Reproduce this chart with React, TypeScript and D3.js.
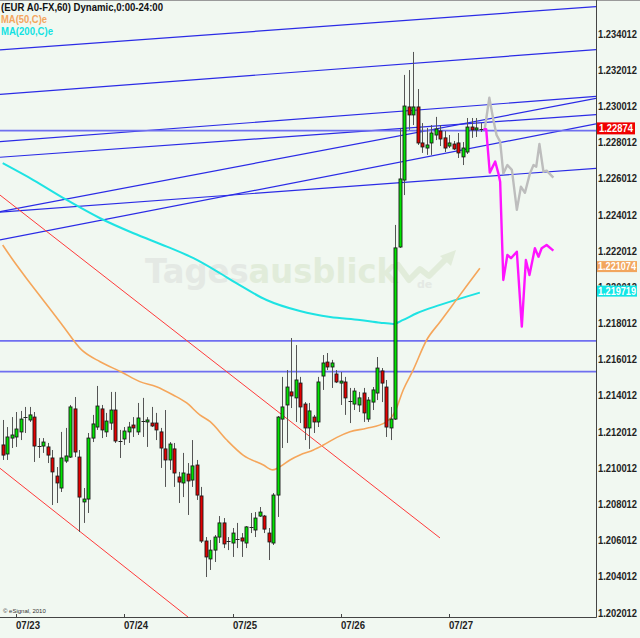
import React from 'react';
import * as d3 from 'd3';

// ---------- data ----------
const opens = [1.21130,1.21080,1.21168,1.21174,1.21202,1.21284,1.21268,1.21284,1.21124,1.21124,1.21119,1.21058,1.20958,1.20892,1.21041,1.21063,1.21329,1.21063,1.20815,1.20831,1.21168,1.21229,1.21329,1.21202,1.21251,1.21323,1.21152,1.21163,1.21202,1.21240,1.21202,1.21262,1.21257,1.21251,1.21251,1.21202,1.21108,1.21047,1.21108,1.20953,1.20920,1.20969,1.20936,1.21019,1.20848,1.20599,1.20500,1.20549,1.20621,1.20699,1.20599,1.20588,1.20610,1.20616,1.20588,1.20671,1.20660,1.20737,1.20737,1.20643,1.20588,1.20853,1.21273,1.21351,1.21423,1.21390,1.21472,1.21356,1.21224,1.21284,1.21257,1.21511,1.21588,1.21561,1.21522,1.21472,1.21478,1.21373,1.21356,1.21351,1.21417,1.21273,1.21367,1.21417,1.21539,1.21450,1.21224,1.21273,1.22224,1.22594,1.22998,1.22954,1.22998,1.22799,1.22771,1.22799,1.22843,1.22865,1.22827,1.22782,1.22793,1.22799,1.22722,1.22749,1.22887,1.22871,1.22876];
const highs = [1.21268,1.21229,1.21284,1.21312,1.21318,1.21340,1.21340,1.21312,1.21168,1.21168,1.21141,1.21102,1.21008,1.21202,1.21224,1.21351,1.21395,1.21102,1.20892,1.21196,1.21296,1.21456,1.21351,1.21307,1.21423,1.21423,1.21213,1.21229,1.21257,1.21284,1.21362,1.21390,1.21284,1.21340,1.21307,1.21224,1.21323,1.21146,1.21141,1.20981,1.21086,1.21030,1.21157,1.21047,1.20898,1.20621,1.20605,1.20632,1.20737,1.20726,1.20621,1.20671,1.20699,1.20643,1.20682,1.20754,1.20759,1.20787,1.20743,1.20671,1.20864,1.21290,1.21506,1.21544,1.21721,1.21682,1.21506,1.21367,1.21362,1.21296,1.21506,1.21627,1.21638,1.21600,1.21544,1.21533,1.21506,1.21445,1.21445,1.21423,1.21445,1.21395,1.21450,1.21616,1.21555,1.21489,1.21340,1.22346,1.22882,1.23175,1.23202,1.23302,1.23097,1.22909,1.22882,1.22898,1.22943,1.22898,1.22865,1.22843,1.22810,1.22854,1.22804,1.22937,1.22937,1.22937,1.22909];
const lows = [1.21047,1.21047,1.21113,1.21119,1.21157,1.21196,1.21257,1.21036,1.21058,1.21086,1.21030,1.20798,1.20809,1.20870,1.21030,1.21058,1.21063,1.20649,1.20699,1.20754,1.21146,1.21213,1.21168,1.21174,1.21213,1.21141,1.21058,1.21130,1.21141,1.21174,1.21185,1.21174,1.21119,1.21229,1.21157,1.21003,1.20898,1.20992,1.20898,1.20809,1.20842,1.20743,1.20898,1.20826,1.20588,1.20400,1.20439,1.20483,1.20588,1.20560,1.20549,1.20511,1.20560,1.20511,1.20560,1.20643,1.20621,1.20732,1.20643,1.20494,1.20577,1.20732,1.21113,1.21141,1.21334,1.21257,1.21251,1.21157,1.21108,1.21196,1.21229,1.21434,1.21544,1.21445,1.21472,1.21351,1.21296,1.21251,1.21323,1.21312,1.21257,1.21257,1.21323,1.21378,1.21367,1.21174,1.21157,1.21268,1.22219,1.22511,1.22871,1.22898,1.22788,1.22744,1.22733,1.22733,1.22815,1.22782,1.22749,1.22771,1.22760,1.22716,1.22677,1.22738,1.22827,1.22832,1.22860];
const closes = [1.21074,1.21174,1.21185,1.21218,1.21273,1.21281,1.21296,1.21124,1.21122,1.21146,1.21074,1.20981,1.20920,1.21058,1.21069,1.21340,1.21091,1.20842,1.20831,1.21168,1.21246,1.21345,1.21213,1.21262,1.21323,1.21152,1.21145,1.21207,1.21229,1.21224,1.21279,1.21260,1.21268,1.21235,1.21213,1.21113,1.21047,1.21135,1.20975,1.20925,1.20975,1.20931,1.21014,1.20853,1.20599,1.20511,1.20549,1.20621,1.20699,1.20583,1.20596,1.20643,1.20607,1.20599,1.20677,1.20674,1.20726,1.20759,1.20665,1.20594,1.20853,1.21284,1.21340,1.21450,1.21401,1.21489,1.21340,1.21224,1.21318,1.21257,1.21478,1.21583,1.21561,1.21583,1.21478,1.21483,1.21390,1.21370,1.21428,1.21390,1.21307,1.21378,1.21434,1.21555,1.21472,1.21229,1.21273,1.22219,1.22600,1.23003,1.22954,1.22998,1.22799,1.22777,1.22788,1.22854,1.22876,1.22821,1.22771,1.22799,1.22766,1.22744,1.22771,1.22887,1.22871,1.22882,1.22874];

const ma50Idx = [0,2,5,9,13,17.5,21.6,26.4,30.4,34.1,37.8,40.8,43.7,46,49.7,53.3,57.8,59.9,61.5,63.7,65.9,68.9,71.1,74.1,77,80.7,84.8,87,88.8,91,94,97,100.3,105.8];
const ma50Val = [1.22235,1.22162,1.22060,1.21930,1.21800,1.21655,1.21590,1.21532,1.21480,1.21452,1.21406,1.21362,1.21296,1.21259,1.21157,1.21074,1.21019,1.20992,1.21010,1.21047,1.21074,1.21102,1.21130,1.21172,1.21203,1.21222,1.21253,1.21314,1.21434,1.21544,1.21710,1.21811,1.21922,1.22107];

const ma200Idx = [0,6.8,14.2,21.6,29,36.4,42.3,48.2,51.9,58.5,65.9,72.6,79.2,83.7,86.6,88.8,91.8,97,105.8];
const ma200Val = [1.22687,1.22594,1.22484,1.22383,1.22300,1.22226,1.22162,1.22079,1.22023,1.21931,1.21870,1.21837,1.21821,1.21806,1.21799,1.21821,1.21858,1.21904,1.21972];

const magentaIdx = [106.6,107.2,108.0,109.2,109.9,110.3,111.0,111.9,112.7,114.0,115.1,116.0,116.8,118.0,118.8,119.5,120.6,122.1];
const magentaVal = [1.22875,1.22875,1.22635,1.22696,1.22631,1.22585,1.22042,1.22180,1.22162,1.22198,1.21784,1.22152,1.22069,1.22217,1.22170,1.22217,1.22235,1.22204];
const grayIdx = [106.9,107.9,108.8,109.5,110.3,111.0,111.9,112.9,114.0,114.9,115.8,116.9,117.7,118.3,119.0,119.9,120.6,122.1];
const grayVal = [1.22880,1.23049,1.22926,1.22843,1.22806,1.22631,1.22677,1.22650,1.22429,1.22557,1.22524,1.22631,1.22677,1.22668,1.22793,1.22640,1.22646,1.22607];

const trendFrom = [1.23313,1.23068,1.22806,1.22720,1.22419,1.22263,1.22417];
const trendTo = [1.23553,1.23315,1.23056,1.22956,1.23045,1.22904,1.22659];
const levels = [1.22867,1.21705,1.21535];
const redFromVal = [1.22511,1.21001];
const redToIdx = [96.96,41.09];
const redToVal = [1.20616,1.20179];

const dayLabels = ['07/23','07/24','07/25','07/26','07/27'];
const dayTickIdx = [3,27,51,75,99];
const yTicks = d3.range(17).map(k => 1.202012 + 0.002 * k);
const lastPrice = 1.22874;
const ma50Last = 1.221074;
const ma200Last = 1.219719;

// ---------- chart ----------
const PR = 596, PB = 617;
const BG = '#f1f8f1';

export default function App() {
  const x = d3.scaleLinear().domain([0, 131.55]).range([2.7, PR]);
  const y = d3.scaleLinear().domain([1.202012, 1.234012]).range([613, 34]);
  const xL = x.invert(0), xR = x.invert(PR);

  const ma50Line = d3.line<number>().x((_, i) => x(ma50Idx[i])).y(d => y(d)).curve(d3.curveMonotoneX)(ma50Val) || '';
  const ma200Line = d3.line<number>().x((_, i) => x(ma200Idx[i])).y(d => y(d)).curve(d3.curveMonotoneX)(ma200Val) || '';
  const magLine = d3.line<number>().x((_, i) => x(magentaIdx[i])).y(d => y(d))(magentaVal) || '';
  const grayLine = d3.line<number>().x((_, i) => x(grayIdx[i])).y(d => y(d))(grayVal) || '';

  const font = 'Liberation Sans, Arial, sans-serif';

  return (
    <svg width={640} height={638} style={{ position: 'absolute', left: 0, top: 0, display: 'block' }} fontFamily={font}>
      <defs>
        <clipPath id="plot"><rect x={0} y={0} width={PR} height={PB} /></clipPath>
      </defs>
      <rect x={0} y={0} width={640} height={638} fill={BG} />

      {/* watermark */}
      <g>
        <text x={145} y={283} fontFamily="DejaVu Sans, sans-serif" fontWeight="bold" fontSize={34} textLength={253} lengthAdjust="spacingAndGlyphs">
          <tspan fill="#e4e9e4">Tages</tspan><tspan fill="#e1ecda">ausblick</tspan>
        </text>
        <polyline points="398,265 409,280 420,269 429,276 446,259" fill="none" stroke="#e1ecda" strokeWidth={6} strokeLinejoin="round" strokeLinecap="round" />
        <polygon points="440,256 456,250 451,266" fill="#e1ecda" />
        <text x={417} y={288} fontFamily="DejaVu Sans, sans-serif" fontWeight="bold" fontSize={11} fill="#e4e9e4">de</text>
      </g>

      <g clipPath="url(#plot)">
        {trendFrom.map((v, k) => (
          <line key={'t' + k} x1={x(xL)} y1={y(v)} x2={x(xR)} y2={y(trendTo[k])} stroke="#2b2be6" strokeWidth={1.2} />
        ))}
        {levels.map((v, k) => (
          <line key={'l' + k} x1={0} x2={PR} y1={y(v)} y2={y(v)} stroke="#6f6ff0" strokeWidth={1.6} />
        ))}
        {redFromVal.map((v, k) => (
          <line key={'r' + k} x1={x(xL)} y1={y(v)} x2={x(redToIdx[k])} y2={y(redToVal[k])} stroke="#ff3a3a" strokeWidth={1} />
        ))}
        <path d={ma200Line} fill="none" stroke="#1ee3e3" strokeWidth={2} />
        <path d={ma50Line} fill="none" stroke="#f5a65b" strokeWidth={1.6} />

        {opens.map((o, i) => {
          const c = closes[i];
          const cx = Math.round(x(i));
          const top = y(Math.max(o, c));
          const bot = y(Math.min(o, c));
          const up = c >= o;
          return (
            <g key={'c' + i}>
              <line x1={cx + 0.5} x2={cx + 0.5} y1={y(highs[i])} y2={y(lows[i])} stroke="#555" strokeWidth={1} />
              {bot - top < 1.3 ? (
                <line x1={cx - 1.5} x2={cx + 2.5} y1={Math.round(top) + 0.5} y2={Math.round(top) + 0.5} stroke="#222" strokeWidth={1} />
              ) : (
                <rect x={cx - 1} y={top} width={3} height={bot - top} fill={up ? '#00e400' : '#e40000'} stroke="#1a1a1a" strokeWidth={0.9} />
              )}
            </g>
          );
        })}

        <path d={grayLine} fill="none" stroke="#bdbdbd" strokeWidth={2.4} strokeLinejoin="round" />
        <path d={magLine} fill="none" stroke="#ff14ff" strokeWidth={2.4} strokeLinejoin="round" />
      </g>

      <line x1={0} x2={640} y1={0.5} y2={0.5} stroke="#9a9a9a" />
      <line x1={PR + 0.5} x2={PR + 0.5} y1={0} y2={PB + 0.5} stroke="#444" />
      <line x1={0} x2={PR + 0.5} y1={PB + 0.5} y2={PB + 0.5} stroke="#444" />
      {dayTickIdx.map((t, k) => (
        <g key={'d' + k}>
          <line x1={Math.round(x(t)) + 0.5} x2={Math.round(x(t)) + 0.5} y1={PB - 3} y2={PB} stroke="#444" />
          <text x={Math.round(x(t))} y={629} fontSize={11} fontWeight="bold" fill="#222" textLength={24} lengthAdjust="spacingAndGlyphs">{dayLabels[k]}</text>
        </g>
      ))}

      {yTicks.map((v, k) => (
        <text key={'y' + k} x={598} y={y(v)} dy="0.36em" fontSize={10} fontWeight="bold" fill="#222" textLength={39} lengthAdjust="spacingAndGlyphs">{v.toFixed(6)}</text>
      ))}

      <rect x={597} y={y(lastPrice) - 7} width={38} height={12} fill="#f00000" />
      <text x={599} y={y(lastPrice) - 1} dy="0.36em" fontSize={10} fontWeight="bold" fill="#fff" textLength={34} lengthAdjust="spacingAndGlyphs">{lastPrice.toFixed(5)}</text>
      <rect x={597} y={y(ma50Last) - 7} width={40} height={11} fill="#f2a65e" />
      <text x={598} y={y(ma50Last) - 1.5} dy="0.36em" fontSize={10} fontWeight="bold" fill="#fff" textLength={38} lengthAdjust="spacingAndGlyphs">{ma50Last.toFixed(6)}</text>
      <rect x={597} y={y(ma200Last) - 7} width={40} height={11} fill="#10e6e6" />
      <text x={598} y={y(ma200Last) - 1.5} dy="0.36em" fontSize={10} fontWeight="bold" fill="#fff" textLength={38} lengthAdjust="spacingAndGlyphs">{ma200Last.toFixed(6)}</text>

      <text x={1} y={10.5} fontSize={11} fontWeight="bold" fill="#111" textLength={162} lengthAdjust="spacingAndGlyphs">(EUR A0-FX,60) Dynamic,0:00-24:00</text>
      <text x={1} y={22.5} fontSize={11} fontWeight="bold" fill="#f4a55e" textLength={46} lengthAdjust="spacingAndGlyphs">MA(50,C)e</text>
      <text x={1} y={34.5} fontSize={11} fontWeight="bold" fill="#12e2e2" textLength={52} lengthAdjust="spacingAndGlyphs">MA(200,C)e</text>

      <text x={3} y={613} fontSize={6} fill="#333">© eSignal, 2010</text>
    </svg>
  );
}
